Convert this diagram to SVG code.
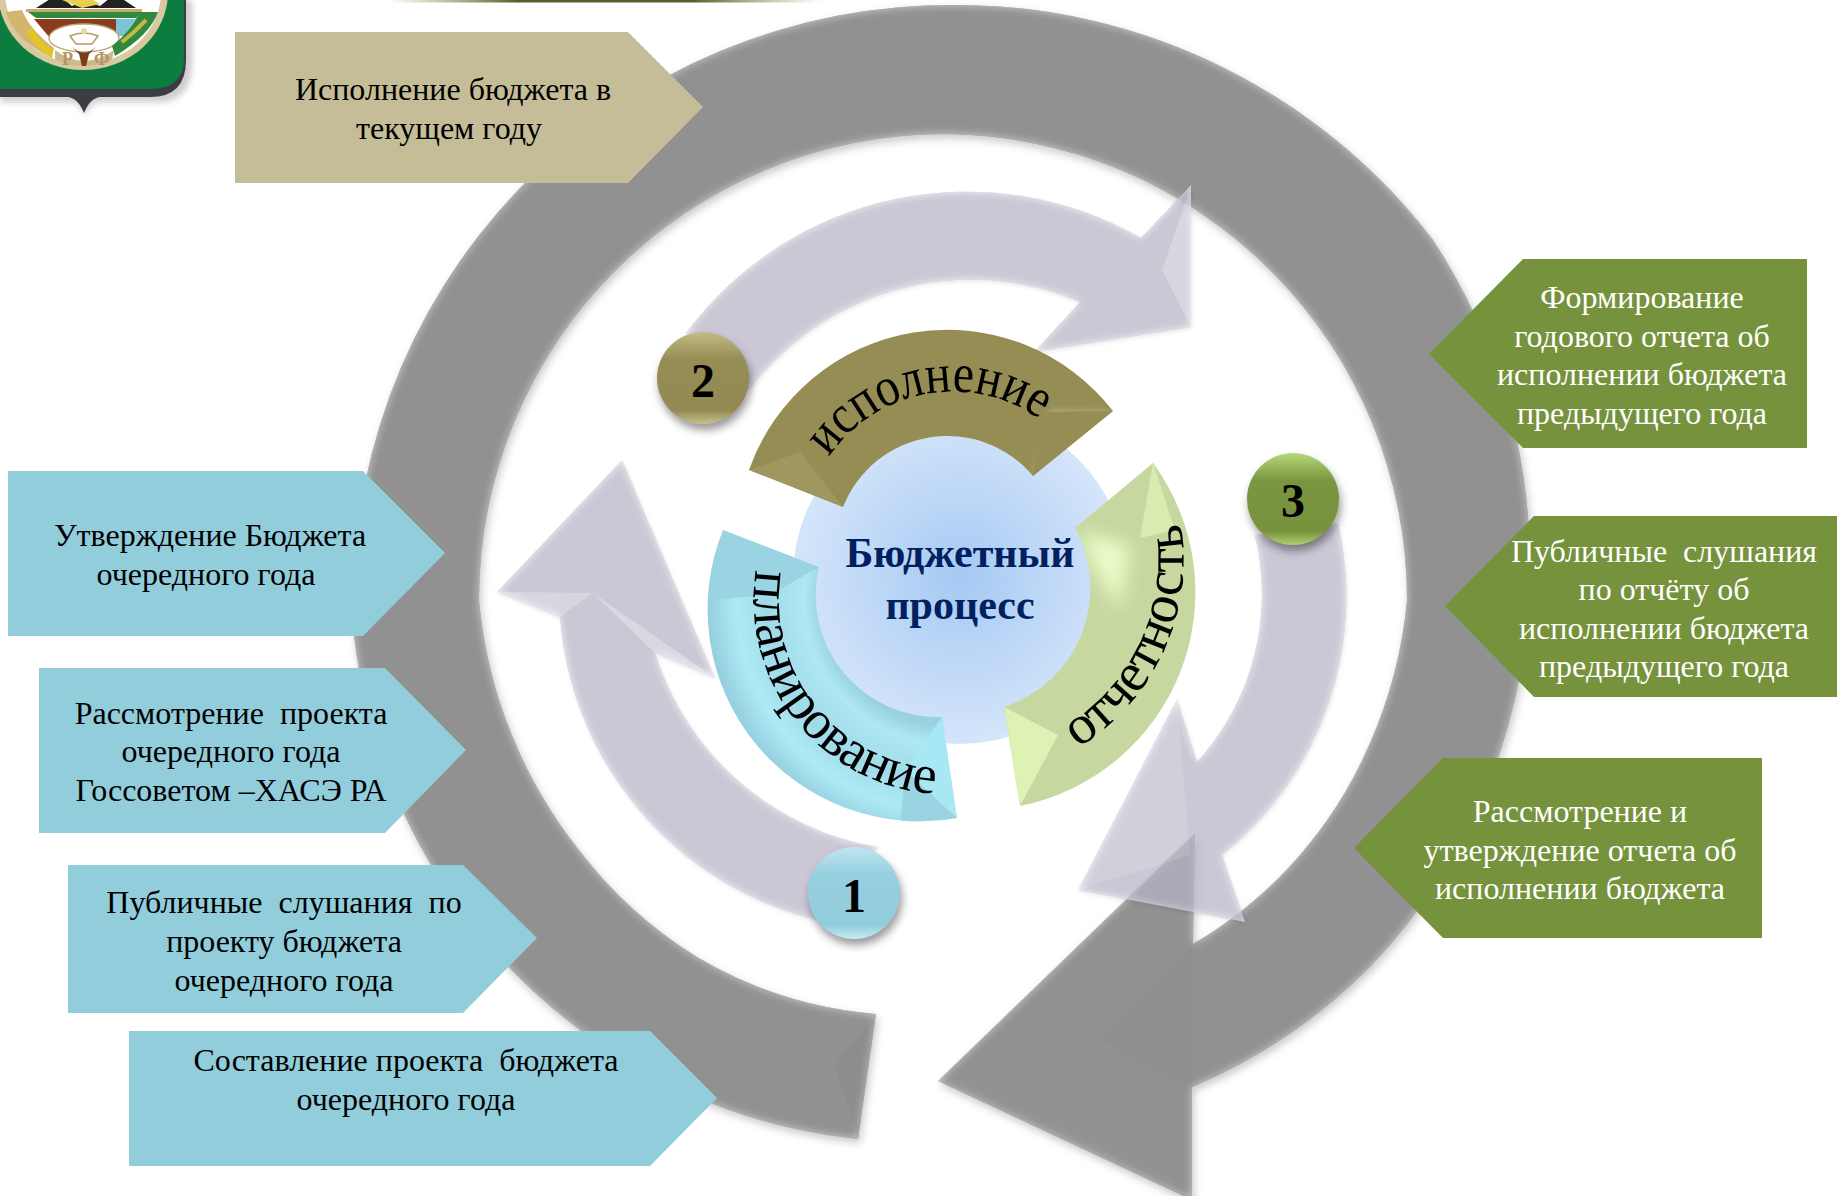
<svg xmlns="http://www.w3.org/2000/svg" width="1837" height="1196" viewBox="0 0 1837 1196">
<style>
text{font-family:"Liberation Serif","Times New Roman",serif;white-space:pre}
.t{font-size:32px;text-anchor:middle;fill:#000}
.w{font-size:32px;text-anchor:middle;fill:#fff}
.c{font-size:42px;font-weight:bold;text-anchor:middle;fill:#002060}
.n{font-size:48px;font-weight:bold;text-anchor:middle;fill:#000}
.a{font-size:55px;fill:#000}
.bl{fill:#92cddc}.gr{fill:#76923c}
</style>
<defs>
<filter id="bev" x="-6%" y="-6%" width="112%" height="112%" color-interpolation-filters="sRGB">
<feGaussianBlur in="SourceAlpha" stdDeviation="5" result="b"/>
<feComposite in="SourceAlpha" in2="b" operator="arithmetic" k2="1" k3="-1" result="e"/>
<feFlood flood-color="#fff" flood-opacity="0.55"/>
<feComposite in2="e" operator="in" result="hl"/>
<feGaussianBlur in="SourceAlpha" stdDeviation="4"/>
<feOffset dx="2" dy="4" result="s0"/>
<feFlood flood-color="#000" flood-opacity="0.22"/>
<feComposite in2="s0" operator="in" result="s"/>
<feMerge><feMergeNode in="s"/><feMergeNode in="SourceGraphic"/><feMergeNode in="hl"/></feMerge>
</filter>
<filter id="bevP" x="-6%" y="-6%" width="112%" height="112%" color-interpolation-filters="sRGB">
<feGaussianBlur in="SourceAlpha" stdDeviation="4" result="b"/>
<feComposite in="SourceAlpha" in2="b" operator="arithmetic" k2="1" k3="-1" result="e"/>
<feFlood flood-color="#fff" flood-opacity="0.8"/>
<feComposite in2="e" operator="in" result="hl"/>
<feGaussianBlur in="SourceAlpha" stdDeviation="2"/>
<feOffset dx="1" dy="2" result="s0"/>
<feFlood flood-color="#000" flood-opacity="0.12"/>
<feComposite in2="s0" operator="in" result="s"/>
<feMerge><feMergeNode in="s"/><feMergeNode in="SourceGraphic"/><feMergeNode in="hl"/></feMerge>
</filter>
<filter id="sh" x="-30%" y="-30%" width="160%" height="160%" color-interpolation-filters="sRGB">
<feGaussianBlur in="SourceAlpha" stdDeviation="4"/>
<feOffset dx="2" dy="6" result="s0"/>
<feFlood flood-color="#000" flood-opacity="0.4"/>
<feComposite in2="s0" operator="in" result="s"/>
<feMerge><feMergeNode in="s"/><feMergeNode in="SourceGraphic"/></feMerge>
</filter>
<filter id="soft"><feGaussianBlur stdDeviation="3"/></filter>
<filter id="soft2" x="-40%" y="-40%" width="180%" height="180%"><feGaussianBlur stdDeviation="9"/></filter>
<radialGradient id="core" gradientUnits="userSpaceOnUse" cx="960" cy="577" r="167"><stop offset="0" stop-color="#a5c9f3"/><stop offset="1" stop-color="#d5e5fa"/></radialGradient>
<radialGradient id="ringB" gradientUnits="userSpaceOnUse" cx="948" cy="600" r="240"><stop offset="0.52" stop-color="#98d2e1"/><stop offset="0.6" stop-color="#aee8f4"/><stop offset="0.76" stop-color="#a0dae8"/><stop offset="0.88" stop-color="#aeeaf6"/><stop offset="1" stop-color="#96cfdf"/></radialGradient>
<linearGradient id="s1" x1="0" y1="0" x2="0" y2="1"><stop offset="0" stop-color="#bfe6ef"/><stop offset="0.3" stop-color="#96cfdf"/><stop offset="0.85" stop-color="#92cddc"/><stop offset="1" stop-color="#c5ecf3"/></linearGradient>
<linearGradient id="s2" x1="0" y1="0" x2="0" y2="1"><stop offset="0" stop-color="#c3bb85"/><stop offset="0.3" stop-color="#968d55"/><stop offset="0.85" stop-color="#928a52"/><stop offset="1" stop-color="#c9c18c"/></linearGradient>
<linearGradient id="s3" x1="0" y1="0" x2="0" y2="1"><stop offset="0" stop-color="#b5d87a"/><stop offset="0.3" stop-color="#7a963f"/><stop offset="0.85" stop-color="#76923c"/><stop offset="1" stop-color="#b0d070"/></linearGradient>
<linearGradient id="bar" x1="0" y1="0" x2="1" y2="0"><stop offset="0" stop-color="#76923c" stop-opacity="0"/><stop offset="0.3" stop-color="#4f6228"/><stop offset="0.7" stop-color="#4f6228"/><stop offset="1" stop-color="#76923c" stop-opacity="0"/></linearGradient>
<path id="pP" d="M756,570 A194,194 0 0 0 1000,787"/>
<path id="pI" d="M829,457 A150,150 0 0 1 1070,448"/>
<path id="pO" d="M1078,748 A222,222 0 0 0 1177,505"/>
<clipPath id="cPlan"><path d="M723,530 L819,567 A122,122 0 0 0 942,717 L957,818 A212,212 0 0 1 723,530 Z"/></clipPath>
<clipPath id="cOtch"><path d="M1153,463 L1075,528 A125,125 0 0 1 1004,707 L1020,806 A218,218 0 0 0 1153,463 Z"/></clipPath>
<clipPath id="cIsp"><path d="M749,470 A210,210 0 0 1 1113,411 L1033,476 A112,112 0 0 0 843,507 Z"/></clipPath>
</defs>

<rect width="1837" height="1196" fill="#fff"/>

<g id="top-band"><rect x="387" y="0" width="435" height="2.5" fill="url(#bar)"/></g>

<g id="emblem">
<path d="M0,0 H192 V62 Q192,102 158,102 H100 Q90,102 85,116 Q80,102 70,102 H0 Z" fill="#9a9a9a" opacity="0.5" filter="url(#soft)"/>
<path d="M0,0 H186 V60 Q186,97 150,97 H100 Q90,98 84,113 Q78,98 68,97 H0 Z" fill="#3c3c44"/>
<path d="M0,0 H184 V58 Q184,89 150,89 H0 Z" fill="#0c7d3e"/>
<ellipse cx="83" cy="-8" rx="85" ry="78" fill="#d8c9a0"/>
<ellipse cx="83" cy="-8" rx="78" ry="72" fill="#fff"/>
<path d="M36,8 L58,-6 L72,6 L84,0 L100,6 L115,-6 L136,8 Z" fill="#222"/>
<path d="M62,0 L76,-2 L90,-2 L100,4 L82,8 Z" fill="#e8cf4e"/>
<rect x="26" y="9" width="116" height="3" fill="#c8a968"/>
<path d="M28,12 H142 L136,18 H36 Z" fill="#2f8a3f"/>
<path d="M34,19 H116 V38 H50 Z" fill="#8a3c1e"/>
<path d="M116,19 H136 L124,36 H116 Z" fill="#7cc4d4"/>
<ellipse cx="84" cy="38" rx="35" ry="14" fill="#fff" stroke="#c0a878" stroke-width="1.5"/>
<path d="M70,36 Q84,30 98,36 L92,44 H76 Z" fill="#fff" stroke="#b79a66" stroke-width="1.5"/>
<circle cx="84" cy="31" r="3" fill="#e6d9b4"/>
<path d="M6,12 Q14,40 52,58 L54,48 Q30,30 22,10 Z" fill="#d2b670"/>
<path d="M30,30 Q38,46 52,54" stroke="#e4c620" stroke-width="7" fill="none"/>
<path d="M158,12 Q150,35 115,56 L112,46 Q130,32 140,12 Z" fill="#2f8a3f"/>
<path d="M146,20 L134,32 L122,42" stroke="#c8b840" stroke-width="4" fill="none"/>
<path d="M55,50 Q84,72 114,50 L112,60 Q84,72 55,60 Z" fill="#cdb98d"/>
<path d="M72,47 Q84,58 96,47 L89,54 L86,66 H82 L79,54 Z" fill="#7a3c18"/>
<text x="62" y="65" font-size="18" font-weight="bold" fill="#b39662">Р</text>
<text x="94" y="65" font-size="18" font-weight="bold" fill="#b39662">Ф</text>
</g>

<g id="connectors">
<g id="big-cycle-arrow">
<path filter="url(#bev)" fill="#919191" d="M858,1139 A560,560 0 0 1 576,1027 A570,570 0 0 1 404,814 A590,590 0 0 1 354,636 A597,597 0 0 1 960,5 A600,600 0 0 1 1433,240 A590,590 0 0 1 1530,560 A575,575 0 0 1 1370,967 A555,555 0 0 1 1192,1087 L1192,1200 L938,1081 L1195,833 L1193,944 A430,430 0 0 0 1370,743 A464,464 0 0 0 1407,600 A466,466 0 0 0 945,134 A466,466 0 0 0 479,600 A470,470 0 0 0 579,850 A440,440 0 0 0 697,957 A420,420 0 0 0 876,1014 Z"/>
<path d="M876,1014 L858,1139 L835,1065 Z" fill="#7f7f7f" opacity="0.18"/>
<path d="M938,1081 L1060,1075 L1192,1200 Z" fill="#9a9a9a" opacity="0.15"/>
<path d="M1193,944 L1100,1040 L1192,1087 Z" fill="#858585" opacity="0.08"/>
</g>
<g id="arrow-1" opacity="0.72">
<path filter="url(#bevP)" fill="#b8b2c6" d="M817,920 A338,338 0 0 1 560,617 L497,592 L622,460 L715,678 L655,653 A282,282 0 0 0 878,847 Z"/>
<path d="M497,592 L593,593 L560,617 Z" fill="#fff" opacity="0.25"/>
<path d="M593,593 L715,678 L655,653 Z" fill="#fff" opacity="0.3"/>
</g>
<g id="arrow-2" opacity="0.72">
<path filter="url(#bevP)" fill="#b8b2c6" d="M686,333 A350,350 0 0 1 1141,238 L1191,185 L1191,327 L1034,352 L1080,302 A278,278 0 0 0 749,390 Z"/>
<path d="M1191,185 L1162,270 L1191,327 Z" fill="#fff" opacity="0.25"/>
</g>
<g id="arrow-3" opacity="0.72">
<path filter="url(#bevP)" fill="#b8b2c6" d="M1338,523 A330,330 0 0 1 1222,855 L1245,922 L1078,890 L1177,699 L1197,762 A250,250 0 0 0 1255,535 Z"/>
<path d="M1078,890 L1177,699 L1190,855 Z" fill="#fff" opacity="0.15"/>
</g>
</g>

<g id="node-ispolnenie-budget"><path d="M235,32 H628 L703,107 L628,183 H235 Z" fill="#c4bd97"/>
<text class="t" x="453" y="100">Исполнение бюджета в</text><text class="t" x="449" y="139">текущем году</text></g>

<g id="node-utverzhdenie"><path class="bl" d="M8,471 H363 L445,553 L363,636 H8 Z"/>
<text class="t" x="210" y="546">Утверждение Бюджета</text><text class="t" x="206" y="585">очередного года</text></g>
<g id="node-rassmotrenie-proekta"><path class="bl" d="M39,668 H385 L466,750 L385,833 H39 Z"/>
<text class="t" x="231" y="724">Рассмотрение  проекта</text><text class="t" x="231" y="762">очередного года</text><text class="t" x="231" y="801">Госсоветом –ХАСЭ РА</text></g>
<g id="node-publichnye-proekt"><path class="bl" d="M68,865 H463 L537,938 L463,1013 H68 Z"/>
<text class="t" x="284" y="913">Публичные  слушания  по</text><text class="t" x="284" y="952">проекту бюджета</text><text class="t" x="284" y="991">очередного года</text></g>
<g id="node-sostavlenie"><path class="bl" d="M129,1031 H650 L717,1098 L650,1166 H129 Z"/>
<text class="t" x="406" y="1071">Составление проекта  бюджета</text><text class="t" x="406" y="1110">очередного года</text></g>

<g id="node-formirovanie"><path class="gr" d="M1807,259 H1523 L1429,354 L1523,448 H1807 Z"/>
<text class="w" x="1642" y="308">Формирование</text><text class="w" x="1642" y="347">годового отчета об</text><text class="w" x="1642" y="385">исполнении бюджета</text><text class="w" x="1642" y="424">предыдущего года</text></g>
<g id="node-publichnye-otchet"><path class="gr" d="M1837,516 H1534 L1445,606 L1534,697 H1837 Z"/>
<text class="w" x="1664" y="562">Публичные  слушания</text><text class="w" x="1664" y="600">по отчёту об</text><text class="w" x="1664" y="639">исполнении бюджета</text><text class="w" x="1664" y="677">предыдущего года</text></g>
<g id="node-rassmotrenie-otchet"><path class="gr" d="M1762,758 H1443 L1354,848 L1443,938 H1762 Z"/>
<text class="w" x="1580" y="822">Рассмотрение и</text><text class="w" x="1580" y="861">утверждение отчета об</text><text class="w" x="1580" y="899">исполнении бюджета</text></g>

<g id="node-center"><circle cx="960" cy="577" r="167" fill="url(#core)"/>
<text class="c" x="960" y="567">Бюджетный</text><text class="c" x="960" y="619">процесс</text></g>

<g id="node-planirovanie">
<path fill="url(#ringB)" d="M723,530 L819,567 A122,122 0 0 0 942,717 L957,818 A212,212 0 0 1 723,530 Z"/>
<g clip-path="url(#cPlan)">
<path d="M723,530 L819,567 L770,595 L710,600 Z" fill="#9ad4e3"/>
<path d="M942,717 L957,818 L905,770 Z" fill="#a8e8f5"/>
<path d="M957,818 L905,770 L900,830 Z" fill="#9ad4e3"/>
</g>
<text class="a"><textPath href="#pP" textLength="322" lengthAdjust="spacingAndGlyphs">планирование</textPath></text>
</g>

<g id="node-ispolnenie">
<path fill="#968d55" d="M749,470 A210,210 0 0 1 1113,411 L1033,476 A112,112 0 0 0 843,507 Z"/>
<g clip-path="url(#cIsp)">
<path d="M749,470 L800,452 L843,507 Z" fill="#9f9660"/>
<path d="M1113,411 L1050,410 L1033,476 Z" fill="#b6ad7a" filter="url(#soft)"/>
<path d="M1113,411 L1033,476 L1040,412 Z" fill="#968d55"/>
</g>
<text class="a"><textPath href="#pI" textLength="238" lengthAdjust="spacingAndGlyphs">исполнение</textPath></text>
</g>

<g id="node-otchetnost">
<path fill="#c6d7a0" d="M1153,463 L1075,528 A125,125 0 0 1 1004,707 L1020,806 A218,218 0 0 0 1153,463 Z"/>
<g clip-path="url(#cOtch)">
<path d="M1080,532 L1130,545 L1120,610 L1095,570 Z" fill="#eafcc8" filter="url(#soft2)"/>
<path d="M1004,707 L1058,735 L1020,806 Z" fill="#dff2b6"/>
<path d="M1153,463 L1140,538 L1175,530 Z" fill="#d8ebb0"/>
</g>
<text class="a"><textPath href="#pO" textLength="262" lengthAdjust="spacingAndGlyphs">отчетность</textPath></text>
</g>

<g id="node-1"><circle cx="854" cy="893" r="46" fill="url(#s1)" filter="url(#sh)"/><text class="n" x="854" y="912">1</text></g>
<g id="node-2"><circle cx="703" cy="378" r="46" fill="url(#s2)" filter="url(#sh)"/><text class="n" x="703" y="397">2</text></g>
<g id="node-3"><circle cx="1293" cy="499" r="46" fill="url(#s3)" filter="url(#sh)"/><text class="n" x="1293" y="517">3</text></g>
</svg>
